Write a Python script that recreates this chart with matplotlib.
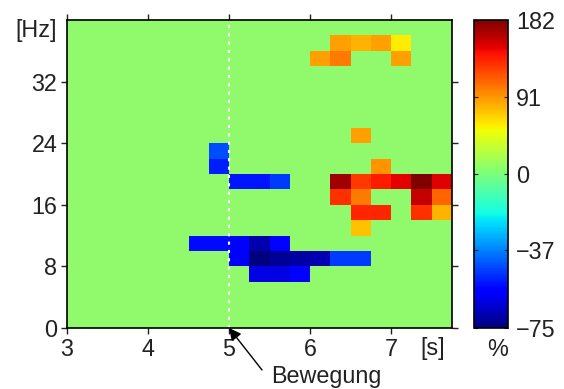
import matplotlib.pyplot as plt
import matplotlib.colors as mcolors
import numpy as np

plt.rcParams['font.family'] = ['Liberation Sans', 'DejaVu Sans']

# bin edges of the time-frequency map
time_edges = np.arange(3.0, 7.76, 0.25)   # [s]
freq_edges = np.arange(0, 41, 2)          # [Hz]

# power change in %, rows from 38-40 Hz (top) down to 0-2 Hz, columns 3.0 .. 7.5 s
change_rows = [
    [0, 0, 0, 0, 0, 0, 0, 0, 0, 0, 0, 0, 0, 0, 0, 0, 0, 0, 0],
    [0, 0, 0, 0, 0, 0, 0, 0, 0, 0, 0, 0, 0, 88, 80, 88, 58, 0, 0],
    [0, 0, 0, 0, 0, 0, 0, 0, 0, 0, 0, 0, 88, 102, 0, 0, 88, 0, 0],
    [0, 0, 0, 0, 0, 0, 0, 0, 0, 0, 0, 0, 0, 0, 0, 0, 0, 0, 0],
    [0, 0, 0, 0, 0, 0, 0, 0, 0, 0, 0, 0, 0, 0, 0, 0, 0, 0, 0],
    [0, 0, 0, 0, 0, 0, 0, 0, 0, 0, 0, 0, 0, 0, 0, 0, 0, 0, 0],
    [0, 0, 0, 0, 0, 0, 0, 0, 0, 0, 0, 0, 0, 0, 0, 0, 0, 0, 0],
    [0, 0, 0, 0, 0, 0, 0, 0, 0, 0, 0, 0, 0, 0, 88, 0, 0, 0, 0],
    [0, 0, 0, 0, 0, 0, 0, -45, 0, 0, 0, 0, 0, 0, 0, 0, 0, 0, 0],
    [0, 0, 0, 0, 0, 0, 0, -52, 0, 0, 0, 0, 0, 0, 0, 91, 0, 0, 0],
    [0, 0, 0, 0, 0, 0, 0, 0, -53, -53, -48, 0, 0, 171, 127, 138, 150, 182, 152],
    [0, 0, 0, 0, 0, 0, 0, 0, 0, 0, 0, 0, 0, 130, 102, 0, 0, 160, 110],
    [0, 0, 0, 0, 0, 0, 0, 0, 0, 0, 0, 0, 0, 0, 135, 135, 0, 130, 80],
    [0, 0, 0, 0, 0, 0, 0, 0, 0, 0, 0, 0, 0, 0, 75, 0, 0, 0, 0],
    [0, 0, 0, 0, 0, 0, -55, -55, -58, -69, -56, 0, 0, 0, 0, 0, 0, 0, 0],
    [0, 0, 0, 0, 0, 0, 0, 0, -58, -75, -72, -70, -68, -48, -48, 0, 0, 0, 0],
    [0, 0, 0, 0, 0, 0, 0, 0, 0, -62, -62, -57, 0, 0, 0, 0, 0, 0, 0],
    [0, 0, 0, 0, 0, 0, 0, 0, 0, 0, 0, 0, 0, 0, 0, 0, 0, 0, 0],
    [0, 0, 0, 0, 0, 0, 0, 0, 0, 0, 0, 0, 0, 0, 0, 0, 0, 0, 0],
    [0, 0, 0, 0, 0, 0, 0, 0, 0, 0, 0, 0, 0, 0, 0, 0, 0, 0, 0],
]
change = np.flipud(np.array(change_rows, dtype=float))

x_ticks = [3, 4, 5, 6, 7]
y_ticks = [0, 8, 16, 24, 32]
cbar_ticks = [-75, -37, 0, 91, 182]
movement_time = 5.0
movement_label = 'Bewegung'

W, H = 564, 389
text_color = '#222222'
fs = 16.8

fig = plt.figure(figsize=(W / 100, H / 100), dpi=100)
ax = fig.add_axes([67 / W, 1 - 328 / H, 385 / W, 308 / H])
cax = fig.add_axes([474 / W, 1 - 328 / H, 34 / W, 308 / H])

norm = mcolors.TwoSlopeNorm(vmin=-75, vcenter=0, vmax=182)
mesh = ax.pcolormesh(time_edges, freq_edges, np.ma.masked_equal(change, 0),
                     cmap='jet', norm=norm)
ax.set_facecolor('#90fa6c')

ax.axvline(movement_time, color='white', linestyle=(0, (1.5, 2.5)), lw=1.5)

ax.set_xlim(3, 7.75)
ax.set_ylim(0, 40)
ax.set_xticks(x_ticks)
ax.set_yticks(y_ticks)
ax.tick_params(direction='out', length=4, width=1, top=True, right=True,
               labelsize=fs, pad=3, colors=text_color)
for s in ax.spines.values():
    s.set_linewidth(1.2)

cb = fig.colorbar(mesh, cax=cax, ticks=cbar_ticks)
cb.ax.tick_params(direction='in', left=True, right=True, length=3,
                  labelsize=fs, pad=6, colors=text_color)
cb.outline.set_linewidth(1.2)

fig.text(57 / W, 1 - 31 / H, '[Hz]', ha='right', va='center', fontsize=fs, color=text_color)
fig.text(433 / W, 1 - 348 / H, '[s]', ha='center', va='center', fontsize=fs, color=text_color)
fig.text(498 / W, 1 - 350 / H, '%', ha='center', va='center', fontsize=fs, color=text_color)
fig.text(271 / W, 1 - 377 / H, movement_label, ha='left', va='center', fontsize=fs, color=text_color)

ax.annotate('', xy=(movement_time, 0), xytext=(262 / W, 1 - 370 / H),
            textcoords='figure fraction', annotation_clip=False,
            arrowprops=dict(arrowstyle='-|>', color='black', lw=1,
                            mutation_scale=18, shrinkA=0, shrinkB=0))

fig.savefig('out.png', dpi=100)
